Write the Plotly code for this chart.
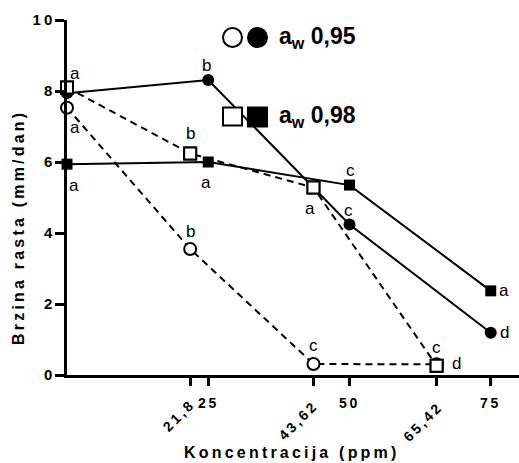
import plotly.graph_objects as go

# ---- data ----
x_full = [0, 25, 50, 75]            # filled series concentrations
x_open = [0, 21.8, 43.62, 65.42]    # open series concentrations

circ_filled_y = [7.94, 8.31, 4.24, 1.19]
circ_open_y = [7.53, 3.55, 0.31, 0.30]
sq_filled_y = [5.94, 6.00, 5.35, 2.37]
sq_open_y = [8.10, 6.24, 5.28, 0.26]

circ_filled_lbl = ["", "b", "c", "d"]
circ_open_lbl = ["a", "b", "c", "c"]
sq_filled_lbl = ["a", "a", "c", "a"]
sq_open_lbl = ["a", "b", "a", "d"]

x_tick_vals = [21.8, 25, 43.62, 50, 65.42, 75]
x_tick_text = ["21,8", "25", "43,62", "50", "65,42", "75"]
y_tick_vals = [0, 2, 4, 6, 8, 10]
y_tick_text = ["0", "2", "4", "6", "8", "10"]

legend_text = ["a<sub>w</sub> 0,95", "a<sub>w</sub> 0,98"]
x_title = "Koncentracija (ppm)"
y_title = "Brzina rasta (mm/dan)"

# ---- styling ----
FONT = "Liberation Sans, Arial, sans-serif"
TS = "\u2009"


def spaced(s):
    return TS.join(list(s))


circ_filled_off = [(0, 0), (-2, 15), (-1, 14), (14, 0)]
circ_open_off = [(8, -20), (0, 17), (0, 19), (0, 17)]
sq_filled_off = [(7, -21), (-2, -20), (1, 15), (13, 0)]
sq_open_off = [(8, 14), (0, 20), (-3, -21), (20, 2)]

fig = go.Figure()

fig.add_trace(go.Scatter(
    x=x_open, y=circ_open_y, mode="lines+markers", cliponaxis=False,
    line=dict(color="black", width=2, dash="7px,5px"),
    marker=dict(symbol="circle", size=12, color="white", line=dict(color="black", width=2)),
))
fig.add_trace(go.Scatter(
    x=x_open, y=sq_open_y, mode="lines+markers", cliponaxis=False,
    line=dict(color="black", width=2, dash="7px,5px"),
    marker=dict(symbol="square", size=12, color="white", line=dict(color="black", width=2)),
))
fig.add_trace(go.Scatter(
    x=x_full, y=circ_filled_y, mode="lines+markers", cliponaxis=False,
    line=dict(color="black", width=2),
    marker=dict(symbol="circle", size=12, color="black", line=dict(color="black", width=0)),
))
fig.add_trace(go.Scatter(
    x=x_full, y=sq_filled_y, mode="lines+markers", cliponaxis=False,
    line=dict(color="black", width=2),
    marker=dict(symbol="square", size=11, color="black", line=dict(color="black", width=0)),
))
# open square markers again on top
fig.add_trace(go.Scatter(
    x=x_open, y=sq_open_y, mode="markers", cliponaxis=False,
    marker=dict(symbol="square", size=12, color="white", line=dict(color="black", width=2)),
))

annotations = []
for xs, ys, lbls, offs in [
    (x_full, circ_filled_y, circ_filled_lbl, circ_filled_off),
    (x_open, circ_open_y, circ_open_lbl, circ_open_off),
    (x_full, sq_filled_y, sq_filled_lbl, sq_filled_off),
    (x_open, sq_open_y, sq_open_lbl, sq_open_off),
]:
    for xv, yv, t, (dx, dy) in zip(xs, ys, lbls, offs):
        if not t:
            continue
        annotations.append(dict(
            x=xv, y=yv, xref="x", yref="y", text=t, showarrow=False,
            xshift=dx, yshift=dy, font=dict(family=FONT, size=17, color="black"),
        ))

tick_label_style = {
    "21,8": (-12, -41, -45),
    "25": (-1, -28, 0),
    "43,62": (-16, -46, -45),
    "50": (-1, -28, 0),
    "65,42": (-15, -48, -45),
    "75": (-1, -28, 0),
}
for v, t in zip(x_tick_vals, x_tick_text):
    dx, dy, ang = tick_label_style[t]
    annotations.append(dict(
        x=v, y=0, xref="x", yref="paper", text=spaced(t), showarrow=False,
        xshift=dx, yshift=dy, textangle=ang, xanchor="center", yanchor="middle",
        font=dict(family=FONT, size=14, color="black", weight="bold"),
    ))

annotations.append(dict(
    x=(290 - 67) / 452, y=-(452 - 375) / 355, xref="paper", yref="paper",
    text=spaced(x_title), showarrow=False, xanchor="center", yanchor="middle",
    font=dict(family=FONT, size=16, color="black", weight="bold"),
))
annotations.append(dict(
    x=-(67 - 18) / 452, y=(375 - 229) / 355, xref="paper", yref="paper",
    text=spaced(y_title), showarrow=False, textangle=-90, xanchor="center", yanchor="middle",
    font=dict(family=FONT, size=16, color="black", weight="bold"),
))

leg_rows = [(37, legend_text[0]), (117, legend_text[1])]
for py, t in leg_rows:
    annotations.append(dict(
        x=(277 - 67) / 452, y=(375 - py) / 355, xref="paper", yref="paper",
        text=t, showarrow=False, xanchor="left", yanchor="middle",
        font=dict(family=FONT, size=23, color="black", weight="bold"),
    ))

shapes = []


def px_shape(kind, cx, cy, w, h, fill):
    return dict(
        type=kind, xref="paper", yref="paper",
        xsizemode="pixel", ysizemode="pixel",
        xanchor=(cx - 67) / 452, yanchor=(375 - cy) / 355,
        x0=-w / 2, x1=w / 2, y0=-h / 2, y1=h / 2,
        line=dict(color="black", width=2), fillcolor=fill,
    )


shapes.append(px_shape("circle", 232.5, 37.5, 19, 19, "white"))
shapes.append(px_shape("circle", 257.5, 37.5, 19, 19, "black"))
shapes.append(px_shape("rect", 232.5, 116.5, 19, 18, "white"))
shapes.append(px_shape("rect", 257.5, 117, 19, 19, "black"))

fig.update_layout(
    width=519, height=463,
    margin=dict(l=67, r=0, t=20, b=88),
    paper_bgcolor="white", plot_bgcolor="white",
    showlegend=False,
    font=dict(family=FONT, color="black"),
    annotations=annotations,
    shapes=shapes,
    xaxis=dict(
        range=[0, 80], showgrid=False, zeroline=False,
        showline=True, linecolor="black", linewidth=3,
        tickvals=x_tick_vals, ticktext=[""] * len(x_tick_vals),
        ticks="outside", ticklen=8, tickwidth=3, tickcolor="black",
        showticklabels=False, fixedrange=True,
    ),
    yaxis=dict(
        range=[0, 10], showgrid=False, zeroline=False,
        showline=True, linecolor="black", linewidth=2.5,
        tickvals=y_tick_vals, ticktext=[spaced(t) for t in y_tick_text],
        ticks="outside", ticklen=9, tickwidth=2.5, tickcolor="black",
        tickfont=dict(family=FONT, size=15, color="black", weight="bold"),
        fixedrange=True,
    ),
)

fig.write_html(
    "out.html",
    config={"displayModeBar": False},
    post_script="document.body.style.margin='0';document.body.style.overflow='hidden';",
)
